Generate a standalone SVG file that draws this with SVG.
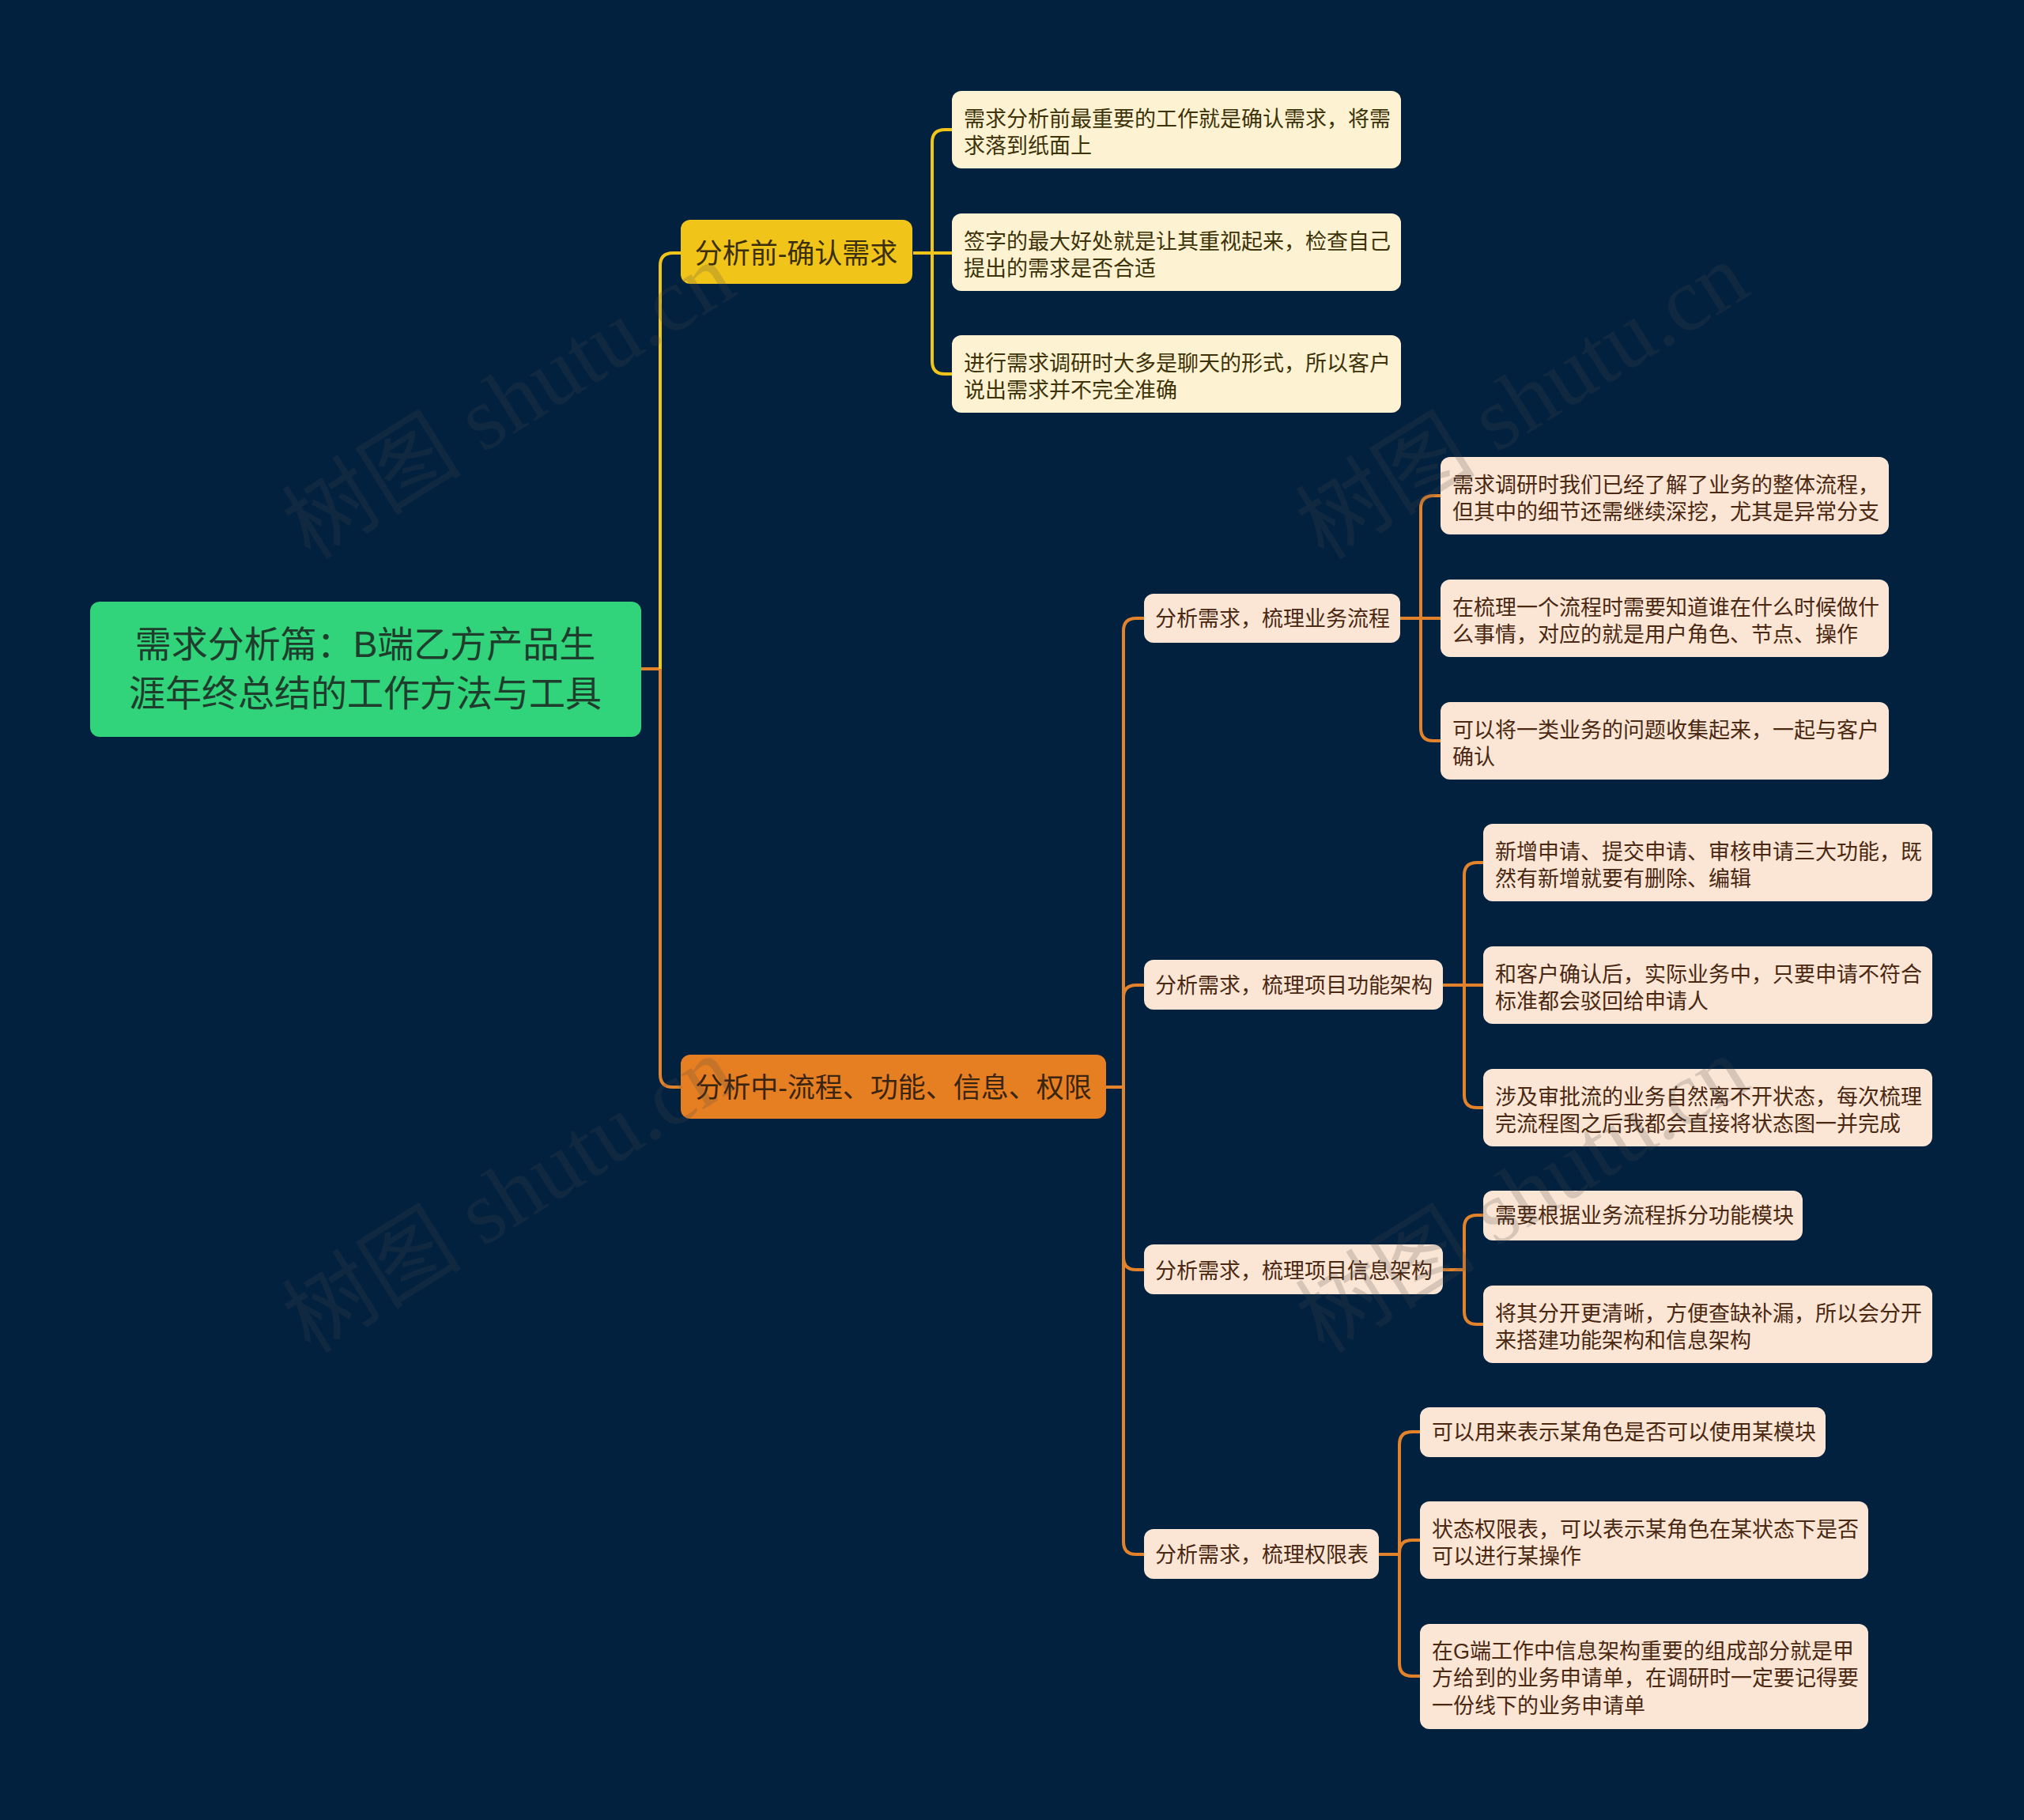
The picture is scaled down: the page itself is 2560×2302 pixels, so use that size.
<svg xmlns="http://www.w3.org/2000/svg" width="2560" height="2302" viewBox="0 0 2560 2302">
<defs>
<style>
text{font-family:"Liberation Sans","Noto Sans CJK SC",sans-serif}
.root rect{fill:#31d47a}
.root text{fill:#1f3d2c;font-size:46px;text-anchor:middle}
.b1 rect{fill:#f0c419}
.b1 text{fill:#3a2e0c;font-size:35px;text-anchor:middle}
.b2 rect{fill:#e67e22}
.b2 text{fill:#3a2412;font-size:35px;text-anchor:middle}
.ly rect{fill:#fdf3d2}
.ly text{fill:#3d3208;font-size:27px}
.lp rect{fill:#fbe6d5}
.lp text{fill:#4a2812;font-size:27px}
.cy{fill:none;stroke:#f0c41b;stroke-width:4}
.co{fill:none;stroke:#e2832c;stroke-width:4}
.wm{font-family:"Liberation Serif","Noto Sans CJK SC",serif;font-size:114px;fill:#4a4a4a;opacity:0.2;text-anchor:middle}
</style>
</defs>
<rect x="0" y="0" width="2560" height="2302" fill="#02213f"/>
<g id="connectors">
<path class="co" d="M811,846 H835"/>
<path class="cy" d="M835,846 V336 Q835,320 851,320 H861"/>
<path class="co" d="M835,846 V1359 Q835,1375 851,1375 H861"/>
<path class="cy" d="M1155,320 H1179 V180 Q1179,164 1195,164 H1204"/>
<path class="cy" d="M1179,320 H1204"/>
<path class="cy" d="M1179,320 V457 Q1179,473 1195,473 H1204"/>
<path class="co" d="M1399,1375 H1421 V798 Q1421,782 1437,782 H1447"/>
<path class="co" d="M1421,1375 V1262 Q1421,1246 1437,1246 H1447"/>
<path class="co" d="M1421,1375 V1590 Q1421,1606 1437,1606 H1447"/>
<path class="co" d="M1421,1590 V1950 Q1421,1966 1437,1966 H1447"/>
<path class="co" d="M1771,782 H1797 V643 Q1797,627 1813,627 H1822"/>
<path class="co" d="M1797,782 H1822"/>
<path class="co" d="M1797,782 V921 Q1797,937 1813,937 H1822"/>
<path class="co" d="M1825,1246 H1852 V1107 Q1852,1091 1868,1091 H1876"/>
<path class="co" d="M1852,1246 H1876"/>
<path class="co" d="M1852,1246 V1385 Q1852,1401 1868,1401 H1876"/>
<path class="co" d="M1825,1606 H1852 V1553 Q1852,1537 1868,1537 H1876"/>
<path class="co" d="M1852,1606 V1659 Q1852,1675 1868,1675 H1876"/>
<path class="co" d="M1744,1966 H1770 V1827 Q1770,1811 1786,1811 H1796"/>
<path class="co" d="M1770,1966 V1964 Q1770,1948 1786,1948 H1796"/>
<path class="co" d="M1770,1966 V2104 Q1770,2120 1786,2120 H1796"/>
</g>
<g id="root" class="root">
<rect x="114" y="761" width="697" height="171" rx="12"/>
<text x="462" y="831">需求分析篇：B端乙方产品生</text>
<text x="462" y="893">涯年终总结的工作方法与工具</text>
</g>
<g id="branch1" class="b1">
<rect x="861" y="278" width="293" height="81" rx="12"/>
<text x="1007" y="333">分析前-确认需求</text>
</g>
<g id="branch2" class="b2">
<rect x="861" y="1334" width="538" height="81" rx="12"/>
<text x="1130" y="1388">分析中-流程、功能、信息、权限</text>
</g>
<g id="leaf1-1" class="ly">
<rect x="1204" y="115" width="568" height="98" rx="12"/>
<text x="1219" y="160">需求分析前最重要的工作就是确认需求，将需</text>
<text x="1219" y="194">求落到纸面上</text>
</g>
<g id="leaf1-2" class="ly">
<rect x="1204" y="270" width="568" height="98" rx="12"/>
<text x="1219" y="315">签字的最大好处就是让其重视起来，检查自己</text>
<text x="1219" y="349">提出的需求是否合适</text>
</g>
<g id="leaf1-3" class="ly">
<rect x="1204" y="424" width="568" height="98" rx="12"/>
<text x="1219" y="469">进行需求调研时大多是聊天的形式，所以客户</text>
<text x="1219" y="503">说出需求并不完全准确</text>
</g>
<g id="sub1" class="lp">
<rect x="1447" y="751" width="324" height="62" rx="12"/>
<text x="1461" y="792">分析需求，梳理业务流程</text>
</g>
<g id="leaf2-1" class="lp">
<rect x="1822" y="578" width="567" height="98" rx="12"/>
<text x="1837" y="623">需求调研时我们已经了解了业务的整体流程，</text>
<text x="1837" y="657">但其中的细节还需继续深挖，尤其是异常分支</text>
</g>
<g id="leaf2-2" class="lp">
<rect x="1822" y="733" width="567" height="98" rx="12"/>
<text x="1837" y="778">在梳理一个流程时需要知道谁在什么时候做什</text>
<text x="1837" y="812">么事情，对应的就是用户角色、节点、操作</text>
</g>
<g id="leaf2-3" class="lp">
<rect x="1822" y="888" width="567" height="98" rx="12"/>
<text x="1837" y="933">可以将一类业务的问题收集起来，一起与客户</text>
<text x="1837" y="967">确认</text>
</g>
<g id="sub2" class="lp">
<rect x="1447" y="1214" width="378" height="63" rx="12"/>
<text x="1461" y="1256">分析需求，梳理项目功能架构</text>
</g>
<g id="leaf3-1" class="lp">
<rect x="1876" y="1042" width="568" height="98" rx="12"/>
<text x="1891" y="1087">新增申请、提交申请、审核申请三大功能，既</text>
<text x="1891" y="1121">然有新增就要有删除、编辑</text>
</g>
<g id="leaf3-2" class="lp">
<rect x="1876" y="1197" width="568" height="98" rx="12"/>
<text x="1891" y="1242">和客户确认后，实际业务中，只要申请不符合</text>
<text x="1891" y="1276">标准都会驳回给申请人</text>
</g>
<g id="leaf3-3" class="lp">
<rect x="1876" y="1352" width="568" height="98" rx="12"/>
<text x="1891" y="1397">涉及审批流的业务自然离不开状态，每次梳理</text>
<text x="1891" y="1431">完流程图之后我都会直接将状态图一并完成</text>
</g>
<g id="sub3" class="lp">
<rect x="1447" y="1574" width="378" height="63" rx="12"/>
<text x="1461" y="1617">分析需求，梳理项目信息架构</text>
</g>
<g id="leaf4-1" class="lp">
<rect x="1876" y="1506" width="404" height="63" rx="12"/>
<text x="1891" y="1547">需要根据业务流程拆分功能模块</text>
</g>
<g id="leaf4-2" class="lp">
<rect x="1876" y="1626" width="568" height="98" rx="12"/>
<text x="1891" y="1671">将其分开更清晰，方便查缺补漏，所以会分开</text>
<text x="1891" y="1705">来搭建功能架构和信息架构</text>
</g>
<g id="sub4" class="lp">
<rect x="1447" y="1934" width="297" height="63" rx="12"/>
<text x="1461" y="1976">分析需求，梳理权限表</text>
</g>
<g id="leaf5-1" class="lp">
<rect x="1796" y="1780" width="513" height="63" rx="12"/>
<text x="1811" y="1821">可以用来表示某角色是否可以使用某模块</text>
</g>
<g id="leaf5-2" class="lp">
<rect x="1796" y="1899" width="567" height="98" rx="12"/>
<text x="1811" y="1944">状态权限表，可以表示某角色在某状态下是否</text>
<text x="1811" y="1978">可以进行某操作</text>
</g>
<g id="leaf5-3" class="lp">
<rect x="1796" y="2054" width="567" height="133" rx="12"/>
<text x="1811" y="2098">在G端工作中信息架构重要的组成部分就是甲</text>
<text x="1811" y="2132">方给到的业务申请单，在调研时一定要记得要</text>
<text x="1811" y="2167">一份线下的业务申请单</text>
</g>
<g id="watermark">
<text class="wm" transform="translate(664,540) rotate(-32)">树图 shutu.cn</text>
<text class="wm" transform="translate(1946,540) rotate(-32)">树图 shutu.cn</text>
<text class="wm" transform="translate(664,1544) rotate(-32)">树图 shutu.cn</text>
<text class="wm" transform="translate(1946,1544) rotate(-32)">树图 shutu.cn</text>
</g>
</svg>
